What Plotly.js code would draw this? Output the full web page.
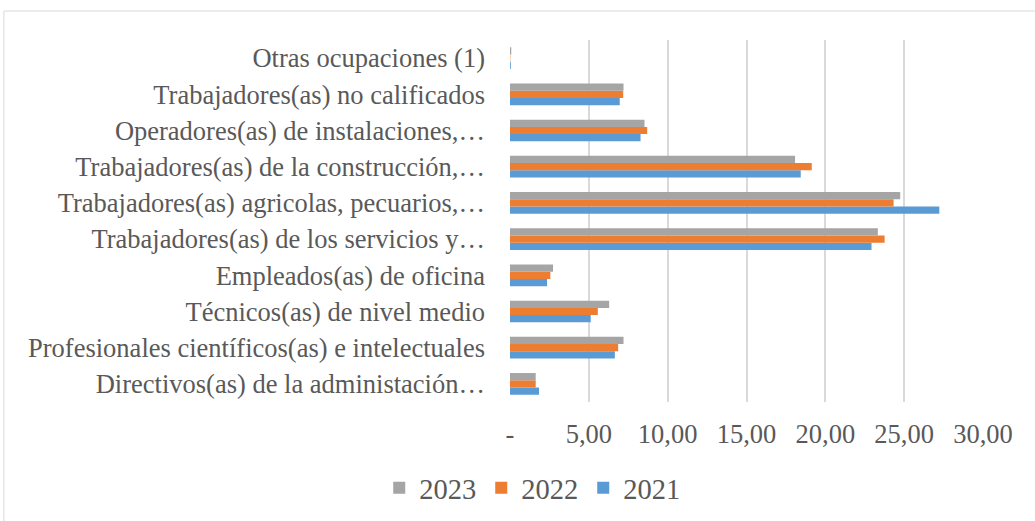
<!DOCTYPE html>
<html>
<head>
<meta charset="utf-8">
<script src="https://cdn.plot.ly/plotly-3.0.1.min.js"></script>
<style>html,body{margin:0;padding:0;background:#fff;}#chart{width:1035px;height:521px;}</style>
</head>
<body>
<div id="chart"></div>
<script>
var categories = [
  "Directivos(as) de la administación…",
  "Profesionales científicos(as) e intelectuales",
  "Técnicos(as) de nivel medio",
  "Empleados(as) de oficina",
  "Trabajadores(as) de los servicios y…",
  "Trabajadores(as) agricolas, pecuarios,…",
  "Trabajadores(as) de la construcción,…",
  "Operadores(as) de instalaciones,…",
  "Trabajadores(as) no calificados",
  "Otras ocupaciones (1)"
];
var values2021 = [1.84, 6.65, 5.12, 2.35, 22.93, 27.23, 18.44, 8.28, 6.96, 0.05];
var values2022 = [1.63, 6.86, 5.57, 2.56, 23.76, 24.33, 19.14, 8.70, 7.18, 0.02];
var values2023 = [1.63, 7.20, 6.29, 2.73, 23.33, 24.75, 18.08, 8.53, 7.20, 0.08];
var tickVals = [0, 5, 10, 15, 20, 25, 30];
var tickText = ["-", "5,00", "10,00", "15,00", "20,00", "25,00", "30,00"];

var font = "'Liberation Serif', 'Times New Roman', serif";
var traces = [
  {name: "2021", y: categories, x: values2021, type: "bar", orientation: "h", marker: {color: "#5B9BD5"}},
  {name: "2022", y: categories, x: values2022, type: "bar", orientation: "h", marker: {color: "#ED7D31"}},
  {name: "2023", y: categories, x: values2023, type: "bar", orientation: "h", marker: {color: "#A5A5A5"}}
];
var layout = {
  width: 1035, height: 521,
  margin: {l: 510, r: 52, t: 40, b: 119, autoexpand: false},
  paper_bgcolor: "#fff", plot_bgcolor: "#fff",
  barmode: "group", bargap: 0.4, bargroupgap: 0,
  font: {family: font, color: "#595959", size: 26.5},
  xaxis: {range: [0, 30], tickvals: tickVals, ticktext: tickText, showgrid: true, gridcolor: "#D9D9D9", gridwidth: 2, zeroline: false, showline: false, ticks: "", ticklabelstandoff: 13, automargin: false, tickfont: {size: 26.5, family: font, color: "#595959"}, fixedrange: true},
  yaxis: {type: "category", showgrid: false, zeroline: false, showline: false, ticks: "", ticklabelstandoff: 24, automargin: false, tickfont: {size: 26.5, family: font, color: "#595959"}, fixedrange: true},
  showlegend: true,
  legend: {orientation: "h", traceorder: "reversed", x: 0.047, xanchor: "center", y: -0.238, yanchor: "middle", font: {size: 28.5, family: font, color: "#595959"}, itemwidth: 30},
  shapes: [{type: "rect", xref: "paper", yref: "paper", x0: -1.07, x1: 1.3, y0: -0.5, y1: 1.08, line: {color: "#D9D9D9", width: 1}}]
};
Plotly.newPlot("chart", traces, layout, {displayModeBar: false, staticPlot: true});
</script>
</body>
</html>
